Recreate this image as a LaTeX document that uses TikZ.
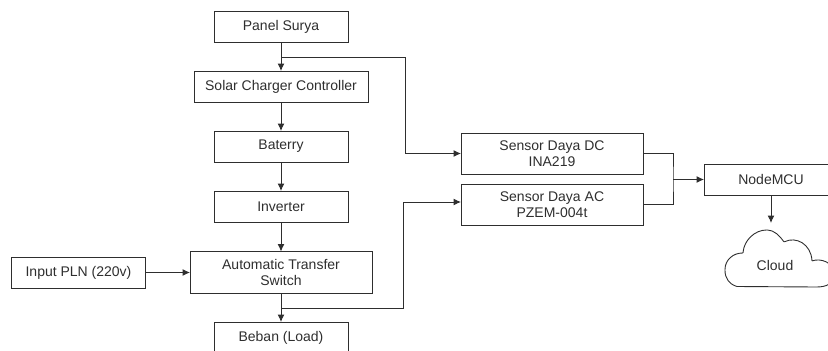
\documentclass[tikz,border=0pt]{standalone}
\usepackage{fontspec}
\setmainfont{Liberation Sans}
\usepackage{xcolor}
\usetikzlibrary{arrows.meta}
\definecolor{garis}{HTML}{2E2E2E}
\tikzset{
	blok/.style={draw=garis,line width=1pt,text=garis,minimum width=134pt,minimum height=31pt,inner sep=0pt,outer sep=0pt,align=center,font=\fontsize{14}{16}\selectfont},
	alur/.style={draw=garis,line width=1pt},
	panah/.style={alur,-{Latex[length=7.5pt,width=7pt]}}
}
\begin{document}
\begin{tikzpicture}[x=1pt,y=-1pt]
		\useasboundingbox (0,0) rectangle (828,351);
		\node[blok] (panel) at (281,27) {Panel Surya};
		\node[blok,minimum width=174pt] (scc) at (281,86.5) {Solar Charger Controller};
		\node[blok] (baterry) at (281,146.5) {Baterry};
		\node[blok] (inverter) at (281,206.5) {Inverter};
		\node[blok,minimum width=182pt,minimum height=42pt] (ats) at (281,272.5) {Automatic Transfer\\Switch};
		\node[blok] (pln) at (78.5,272.5) {Input PLN (220v)};
		\node[blok] (beban) at (281,337.5) {Beban (Load)};
		\node[blok,minimum width=182pt,minimum height=41pt] (dc) at (552,153.5) {Sensor Daya DC\\INA219};
		\node[blok,minimum width=182pt,minimum height=41pt] (ac) at (552,204.5) {Sensor Daya AC\\PZEM-004t};
		\node[blok] (mcu) at (771,179.5) {NodeMCU};
		\node[text=garis,font=\fontsize{14}{16}\selectfont] (cloud) at (775,265) {Cloud};

		\coordinate (dcsplit) at (281,57);
		\coordinate (dcturn) at (405,57);
		\coordinate (acsplit) at (281,308);
		\coordinate (acturn) at (403.5,308);
		\coordinate (acin) at (461,202);
		\coordinate (joint) at (673,179.5);
		\coordinate (cloudtop) at (771,223);

		\draw[panah] (panel) -- (scc);
		\draw[panah] (scc) -- (baterry);
		\draw[panah] (baterry) -- (inverter);
		\draw[panah] (inverter) -- (ats);
		\draw[panah] (ats) -- (beban);
		\draw[panah] (pln) -- (ats);
		\draw[panah] (dcsplit) -- (dcturn) |- (dc.west);
		\draw[panah] (acsplit) -- (acturn) |- (acin);
		\draw[alur] (dc.east) -| (joint) |- (ac.east);
		\draw[panah] (joint) -- (mcu);
		\draw[panah] (mcu) -- (cloudtop);

		\draw[alur,line width=.9pt,rounded corners=.5pt] (737,286.5) .. controls (729,284) and (725,278) .. (725,270) .. controls (725,260) and (733,253) .. (743,253) .. controls (744,240) and (755,230) .. (767,230) .. controls (774,230) and (780,236) .. (784,242) .. controls (796,236) and (811,244) .. (812,261) .. controls (820,258) and (834,262) .. (834,274) .. controls (834,284) and (826,287) .. (816,287) -- cycle;
		\end{tikzpicture}
\end{document}
